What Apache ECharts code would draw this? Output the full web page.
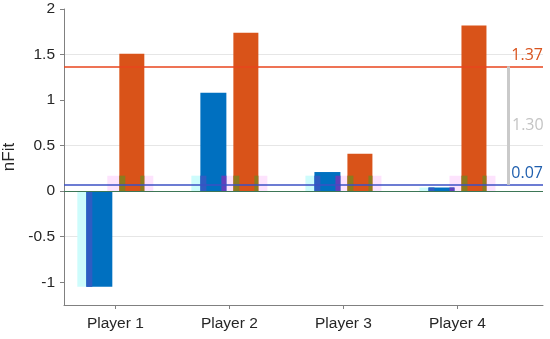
<!DOCTYPE html>
<html>
<head>
<meta charset="utf-8">
<script src="https://cdn.jsdelivr.net/npm/echarts@6/dist/echarts.min.js"></script>
<style>html,body{margin:0;padding:0;background:#fff}#c{width:550px;height:339px}</style>
</head>
<body>
<div id="c"></div>
<script>
// ---- data ----
const categories = ['Player 1', 'Player 2', 'Player 3', 'Player 4'];
const blueValues = [-1.05, 1.08, 0.21, 0.04];
const orangeValues = [1.51, 1.74, 0.41, 1.82];
const cyanValues = [-1.05, 0.17, 0.17, 0.04];
const pinkValues = [0.17, 0.17, 0.17, 0.17];
const greenValues = [0.17, 0.17, 0.17, 0.17];
const yTickValues = [-1, -0.5, 0, 0.5, 1, 1.5, 2];
const xTickValues = [1, 2, 3, 4];

// ---- derived ----
const mean = a => a.reduce((s, v) => s + v, 0) / a.length;
const blueMean = mean(blueValues);
const orangeMean = mean(orangeValues);
const overlap = (a, b) => a.map((v, i) => {
  const w = b[i];
  if (v * w <= 0) return 0;
  return Math.sign(v) * Math.min(Math.abs(v), Math.abs(w));
});
const toXY = arr => arr.map((v, i) => [xTickValues[i], v]);
const zeros = categories.map(() => 0);

const X_MIN = 0.55, X_MAX = 4.75, DIFF_X = 4.443;
const hiddenX = () => ({ type: 'value', min: X_MIN, max: X_MAX, show: false, gridIndex: 0 });

const chart = echarts.init(document.getElementById('c'), null, { renderer: 'canvas' });
const txt = '#262626';
chart.setOption({
  animation: false,
  backgroundColor: '#fff',
  grid: { left: 64, right: 7, top: 9, bottom: 34, containLabel: false, outerBoundsMode: 'none' },
  xAxis: [
    {
      type: 'value', min: X_MIN, max: X_MAX,
      axisLine: { onZero: false, lineStyle: { color: '#808080', width: 1 } },
      axisTick: { customValues: xTickValues, length: 4, lineStyle: { color: '#808080' } },
      axisLabel: {
        customValues: xTickValues, margin: 11, color: txt, fontSize: 15.5, fontFamily: 'Liberation Sans, Arial',
        formatter: v => categories[Math.round(v) - 1]
      },
      splitLine: { show: false }
    },
    hiddenX(), hiddenX(), hiddenX()
  ],
  yAxis: {
    type: 'value', min: -1.25, max: 2, interval: 0.25,
    name: 'nFit', nameLocation: 'middle', nameGap: 40,
    nameTextStyle: { color: txt, fontSize: 17, fontFamily: 'Liberation Sans, Arial' },
    axisLine: { show: true, onZero: false, lineStyle: { color: '#808080', width: 1 } },
    axisTick: { show: true, customValues: yTickValues, length: 4, lineStyle: { color: '#808080' } },
    axisLabel: {
      customValues: yTickValues, margin: 9, color: txt, fontSize: 15.5, fontFamily: 'Liberation Sans, Arial',
      formatter: v => String(v)
    },
    splitLine: { show: true, lineStyle: { color: ['rgba(0,0,0,0)', '#e6e6e6'], width: 1 } }
  },
  series: [
    { type: 'bar', name: 'cyan', xAxisIndex: 1, data: toXY(cyanValues), barWidth: 15, barGap: '100%', z: 1, itemStyle: { color: '#cdfcfc' }, silent: true },
    { type: 'bar', name: 'pink', xAxisIndex: 1, data: toXY(pinkValues), barWidth: 46, barGap: '100%', z: 1, itemStyle: { color: '#fde3fd' }, silent: true },
    { type: 'bar', name: 'blue', xAxisIndex: 0, data: toXY(blueValues), barWidth: 26, barGap: '26.92%', z: 2, itemStyle: { color: '#0070c0' } },
    { type: 'bar', name: 'orange', xAxisIndex: 0, data: toXY(orangeValues), barWidth: 25, barGap: '26.92%', z: 2, itemStyle: { color: '#d95319' } },
    { type: 'bar', name: 'cyanOverBlue', xAxisIndex: 2, data: toXY(overlap(blueValues, cyanValues)), barWidth: 6, barGap: '250%', z: 3, itemStyle: { color: '#2f5cc2' }, silent: true },
    { type: 'bar', name: 'pinkOverBlue', xAxisIndex: 2, data: toXY(overlap(blueValues, pinkValues)), barWidth: 5, barGap: '250%', z: 3, itemStyle: { color: '#6040bb' }, silent: true },
    { type: 'bar', name: 'spacerA', xAxisIndex: 2, data: toXY(zeros), barWidth: 19.5, barGap: '250%', z: 0, itemStyle: { color: 'rgba(0,0,0,0)' }, silent: true },
    { type: 'bar', name: 'spacerB', xAxisIndex: 3, data: toXY(zeros), barWidth: 9.4286, barGap: '250%', z: 0, itemStyle: { color: 'rgba(0,0,0,0)' }, silent: true },
    { type: 'bar', name: 'greenL', xAxisIndex: 3, data: toXY(overlap(orangeValues, greenValues)), barWidth: 6, barGap: '250%', z: 3, itemStyle: { color: '#8c7a1e' }, silent: true },
    { type: 'bar', name: 'greenR', xAxisIndex: 3, data: toXY(overlap(orangeValues, greenValues)), barWidth: 4, barGap: '250%', z: 3, itemStyle: { color: '#8c7a1e' }, silent: true },
    {
      type: 'line', name: 'annotations', xAxisIndex: 0, data: toXY(blueValues), symbol: 'none',
      lineStyle: { width: 0, opacity: 0 }, silent: true, z: 5,
      markLine: {
        silent: true, symbol: ['none', 'none'],
        data: [
          {
            yAxis: 0,
            lineStyle: { color: '#3d7656', width: 1, type: 'solid' },
            label: { show: false }
          },
          {
            yAxis: blueMean,
            lineStyle: { color: '#3b50c4', width: 1.5, type: 'solid' },
            label: { show: true, position: 'insideEndTop', distance: [0, 3], formatter: blueMean.toFixed(2), color: '#1f5fae', fontSize: 16, fontFamily: 'Open Sans' }
          },
          {
            yAxis: orangeMean,
            lineStyle: { color: '#e8451c', width: 1.5, type: 'solid' },
            label: { show: true, position: 'insideEndTop', distance: [0, 3], formatter: orangeMean.toFixed(2), color: '#d9541e', fontSize: 16, fontFamily: 'Open Sans' }
          },
          [
            { coord: [DIFF_X, orangeMean], lineStyle: { color: '#cacaca', width: 3, type: 'solid' }, label: { show: false } },
            { coord: [DIFF_X, blueMean] }
          ]
        ]
      },
      markPoint: {
        silent: true, symbol: 'circle', symbolSize: 0,
        data: [{
          coord: [DIFF_X, (orangeMean + blueMean) / 2],
          label: { show: true, position: 'right', distance: 4, formatter: (orangeMean - blueMean).toFixed(2), color: '#c4c4c4', fontSize: 16, fontFamily: 'Open Sans' }
        }]
      }
    }
  ]
});
</script>
</body>
</html>
